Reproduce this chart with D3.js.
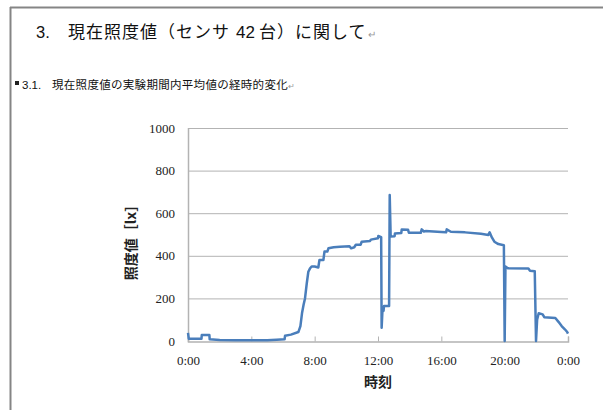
<!DOCTYPE html>
<html><head><meta charset="utf-8">
<script src="https://cdn.jsdelivr.net/npm/d3@7"></script>
<style>
html,body{margin:0;padding:0;background:#fff;}
svg{display:block;}
</style></head>
<body>
<svg id="c" width="603" height="410"></svg>
<script>
// ---- data ----
const titleNum = "3.";
const titleParts = ["現在照度値（センサ", "42", "台）に関して"];
const subtitleNum = "3.1.";
const subtitleJa = "現在照度値の実験期間内平均値の経時的変化";
const xTickHours = [0, 4, 8, 12, 16, 20, 24];
const xTickLabels = ["0:00", "4:00", "8:00", "12:00", "16:00", "20:00", "0:00"];
const yTicks = [0, 200, 400, 600, 800, 1000];
const yLabel = "照度値［lx］";
const xLabel = "時刻";
// time of day in hours
const hours = [0.00,0.05,0.85,0.87,1.35,1.37,2.0,3.0,5.0,5.6,6.1,6.13,6.5,6.97,7.1,7.2,7.3,7.39,7.5,7.6,7.7,7.81,8.0,8.23,8.3,8.55,8.62,8.8,8.87,9.2,9.6,10.2,10.3,10.5,10.6,10.9,10.97,11.5,11.55,12.0,12.02,12.2,12.23,12.28,12.35,12.38,12.7,12.74,12.8,13.05,13.07,13.47,13.5,13.9,13.95,14.7,14.76,14.9,15.0,15.5,16.0,16.3,16.34,16.6,17.5,18.5,18.97,19.05,19.2,19.35,19.6,19.95,20.0,20.05,20.2,21.5,21.6,21.9,21.98,22.05,22.15,22.4,22.5,23.2,23.4,23.6,23.8,23.95,24.0];
const lux   = [38,10,10,28,28,8,5,3,3,6,8,25,30,42,70,130,170,200,270,325,340,350,350,345,380,380,420,420,435,440,442,445,435,440,452,452,466,470,476,482,493,488,62,141,141,164,164,685,490,492,505,507,524,522,508,508,524,514,516,514,512,510,524,513,510,503,498,510,485,466,455,450,0,350,342,340,330,328,0,100,130,125,112,108,90,70,55,42,35];

// ---- layout ----
const svg = d3.select("#c");
const x = d3.scaleLinear().domain([0, 24]).range([188, 568]);
const y = d3.scaleLinear().domain([0, 1000]).range([341, 128]);
const ja = "'Noto Sans CJK JP', sans-serif";
const lat = "'Liberation Sans', Arial, sans-serif";
const serif = "'Liberation Serif', 'DejaVu Serif', serif";

// page frame
svg.append("line").attr("x1",10.5).attr("x2",10.5).attr("y1",7).attr("y2",410).attr("stroke","#858585").attr("stroke-width",2);
svg.append("line").attr("x1",10).attr("x2",603).attr("y1",7.5).attr("y2",7.5).attr("stroke","#858585").attr("stroke-width",2);

// title
const tg = svg.append("g").attr("fill","#111");
tg.append("text").attr("x",36).attr("y",38).attr("font-size",16.5).attr("font-family",lat).text(titleNum);
const tx = [68, 236, 259];
titleParts.forEach((p,i)=>{
  tg.append("text").attr("x",tx[i]).attr("y",38).attr("font-size",17).attr("letter-spacing",i===1?0:1)
    .attr("font-family", i===1 ? lat : ja).text(p);
});
tg.append("text").attr("x",368).attr("y",38).attr("font-size",10).attr("fill","#999").attr("font-family",ja).text("↵");

// subtitle
svg.append("rect").attr("x",15).attr("y",81).attr("width",4).attr("height",4).attr("fill","#222");
svg.append("text").attr("x",22).attr("y",89).attr("font-size",11.5)
  .attr("font-family",lat).attr("fill","#111").text(subtitleNum);
const st = svg.append("text").attr("x",52).attr("y",89).attr("font-size",11.5).attr("letter-spacing",0.3)
  .attr("font-family",ja).attr("fill","#111");
st.append("tspan").text(subtitleJa);
st.append("tspan").attr("fill","#999").attr("font-size",8).text("↵");

// gridlines
svg.append("g").selectAll("line").data(yTicks.filter(d=>d>0)).join("line")
  .attr("x1",x(0)).attr("x2",x(24)).attr("y1",d=>y(d)+0.5).attr("y2",d=>y(d)+0.5)
  .attr("stroke","#b3b3b3").attr("stroke-width",1);

// y axis line
svg.append("line").attr("x1",x(0)+0.5).attr("x2",x(0)+0.5).attr("y1",y(1000)).attr("y2",y(0)+1)
  .attr("stroke","#b3b3b3").attr("stroke-width",1.5);

// x axis with ticks (inside)
const xAxis = d3.axisBottom(x).tickValues(xTickHours).tickFormat((d,i)=>xTickLabels[i]).tickSize(-5).tickPadding(14);
const gx = svg.append("g").attr("transform",`translate(0,${y(0)+0.5})`).call(xAxis);
gx.select(".domain").attr("stroke","#b3b3b3").attr("stroke-width",1.5);
gx.selectAll(".tick line").attr("stroke","#b3b3b3");
gx.selectAll(".tick text").attr("font-size",13).attr("font-family",serif).attr("fill","#222");

// y axis labels
const yAxis = d3.axisLeft(y).tickValues(yTicks).tickFormat(d3.format("d")).tickSize(0).tickPadding(13);
const gy = svg.append("g").attr("transform",`translate(${x(0)},0)`).call(yAxis);
gy.select(".domain").remove();
gy.selectAll(".tick text").attr("font-size",13).attr("font-family",serif).attr("fill","#222");

// axis titles
svg.append("text").attr("x",378).attr("y",387).attr("text-anchor","middle").attr("font-size",14).attr("font-weight","bold")
  .attr("font-family",ja).attr("fill","#222").text(xLabel);
svg.append("text").attr("transform","translate(136,239) rotate(-90)").attr("text-anchor","middle").attr("font-size",14).attr("font-weight","bold")
  .attr("font-family",ja).attr("fill","#222").text(yLabel);

// line
const pts = hours.map((h,i)=>[h, lux[i]]);
svg.append("path").datum(pts)
  .attr("d", d3.line().x(d=>x(d[0])).y(d=>y(d[1])))
  .attr("fill","none").attr("stroke","#4a7ebb").attr("stroke-width",2.5).attr("stroke-linejoin","round");
</script>
</body></html>
